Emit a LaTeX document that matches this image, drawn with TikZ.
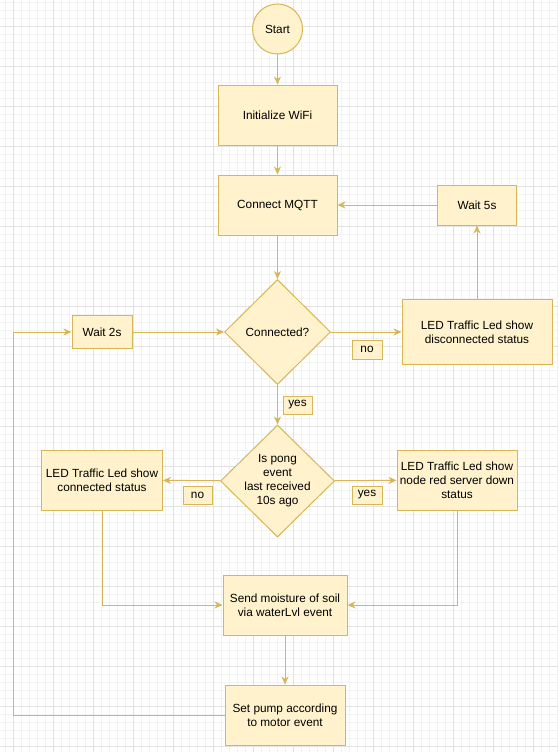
\documentclass[tikz,border=0pt]{standalone}
\usepackage{fontspec}
\setmainfont{Liberation Sans}
\usetikzlibrary{arrows.meta,shapes.geometric}
\definecolor{fillc}{HTML}{FFF2CC}
\definecolor{linec}{HTML}{D6B656}
\definecolor{gridmaj}{HTML}{E2E2E2}
\definecolor{gridmin}{HTML}{F2F2F2}
\begin{document}
\begin{tikzpicture}[x=1pt,y=-1pt,
  txt/.style={font=\fontsize{11.8}{14}\selectfont, align=center, text=black},
  box/.style={txt, draw=linec, fill=fillc, line width=1pt, rectangle, inner sep=0pt},
  dia/.style={draw=linec, fill=fillc, line width=1pt, diamond, inner sep=0pt},
  lbl/.style={box},
  arr/.style={draw=linec, line width=1pt, -{Stealth[length=8pt,width=7pt,inset=2.5pt]}}
]
\fill[white] (0,0) rectangle (558,752);
\useasboundingbox (0,0) rectangle (558,752);
\foreach \x in {5,13,...,557} \draw[gridmin, line width=0.8pt] (\x,0) -- (\x,752);
\foreach \y in {2,10,...,752} \draw[gridmin, line width=0.8pt] (0,\y) -- (558,\y);
\foreach \x in {13,53,...,557} \draw[gridmaj, line width=0.8pt] (\x,0) -- (\x,752);
\foreach \y in {26,66,...,752} \draw[gridmaj, line width=0.8pt] (0,\y) -- (558,\y);

\node[box, circle, minimum size=50pt] (start) at (277.5,29) {Start};
\node[box, minimum width=119pt, minimum height=60pt] (init) at (277.5,115) {Initialize WiFi};
\node[box, minimum width=119pt, minimum height=60pt] (mqtt) at (277.5,205) {Connect MQTT};
\node[box, minimum width=79pt, minimum height=40pt] (w5) at (477,205) {Wait 5s};
\node[dia, minimum width=106pt, minimum height=105pt] (conn) at (277.5,332) {};
\node[txt] at (conn) {Connected?};
\node[box, minimum width=150pt, minimum height=65pt] (disc) at (477,332) {LED Traffic Led show\\disconnected status};
\node[box, minimum width=60pt, minimum height=33pt] (w2) at (102,332) {Wait 2s};
\node[lbl, minimum width=30pt, minimum height=19pt] (nol1) at (367,349.5) {no};
\node[lbl, minimum width=29pt, minimum height=18pt] (yesl1) at (297.5,405) {yes};
\node[dia, minimum width=114pt, minimum height=112pt] (pong) at (277.5,481) {};
\node[txt] at (pong) {Is pong\\event\\last received\\10s ago};
\node[box, minimum width=121pt, minimum height=60pt] (ledc) at (102,480) {LED Traffic Led show\\connected status};
\node[box, minimum width=120pt, minimum height=60pt] (ledr) at (457,480) {LED Traffic Led show\\node red server down\\status};
\node[lbl, minimum width=29pt, minimum height=18pt] (nol2) at (197.5,495) {no};
\node[lbl, minimum width=30pt, minimum height=18pt] (yesl2) at (367,495) {yes};
\node[box, minimum width=124pt, minimum height=60pt] (send) at (285,605) {Send moisture of soil\\via waterLvl event};
\node[box, minimum width=120pt, minimum height=60pt] (pump) at (285,715) {Set pump according\\to motor event};
\coordinate (lp) at (13,715);

\draw[arr] (start) -- (init);
\draw[arr] (init) -- (mqtt);
\draw[arr] (mqtt) -- (conn);
\draw[arr] (conn) -- (disc);
\draw[arr] (disc) -- (w5);
\draw[arr] (w5) -- (mqtt);
\draw[arr] (w2) -- (conn);
\draw[arr] (conn) -- (pong);
\draw[arr] (pong) -- (ledc);
\draw[arr] (pong) -- (ledr);
\draw[arr] (ledc.south) |- (send.west);
\draw[arr] (ledr.south) |- (send.east);
\draw[arr] (send) -- (pump);
\draw[arr] (pump.west) -- (lp) |- (w2.west);
\end{tikzpicture}
\end{document}
